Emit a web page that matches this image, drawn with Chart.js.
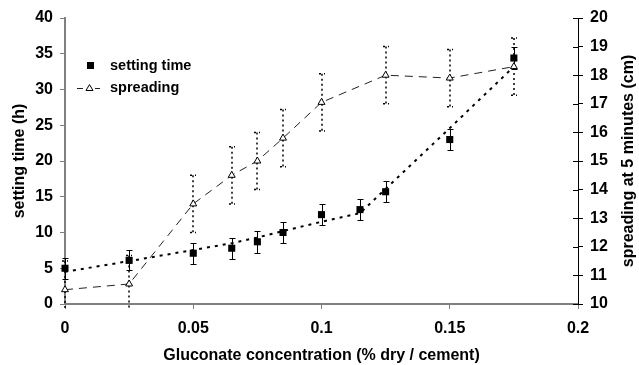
<!DOCTYPE html>
<html>
<head>
<meta charset="utf-8">
<script src="https://cdn.jsdelivr.net/npm/chart.js@4.4.1/dist/chart.umd.min.js"></script>
<style>
  html, body { margin: 0; padding: 0; background: #fff; }
  #wrap { width: 639px; height: 365px; }
</style>
</head>
<body>
<div id="wrap"><canvas id="chart" width="639" height="365"></canvas></div>
<script>
// values
const concentration = [0, 0.025, 0.05, 0.065, 0.075, 0.085, 0.1, 0.115, 0.125, 0.15, 0.175];
const settingTime   = [5.0, 6.1, 7.1, 7.8, 8.7, 10.0, 12.5, 13.2, 15.7, 23.0, 34.4];
const settingErr    = [1.5, 1.4, 1.5, 1.5, 1.5, 1.4, 1.5, 1.5, 1.45, 1.5, 1.5];
const settingTrend  = [4.5, 6.0, 7.55, 8.5, 9.3, 10.2, 11.5, 12.7, 16.1, 24.6, 33.2];

const spreadConc = [0, 0.025, 0.05, 0.065, 0.075, 0.085, 0.1, 0.125, 0.15, 0.175];
const spreading  = [10.5, 10.7, 13.5, 14.5, 15.0, 15.8, 17.05, 18.0, 17.9, 18.3];
const spreadErr  = [1, 1, 1, 1, 1, 1, 1, 1, 1, 1];

const xTicks = [0, 0.05, 0.1, 0.15, 0.2];
const xTickLabels = ['0', '0.05', '0.1', '0.15', '0.2'];
const yTicks = [0, 5, 10, 15, 20, 25, 30, 35, 40];
const y2Ticks = [10, 11, 12, 13, 14, 15, 16, 17, 18, 19, 20];

const FONT = '"Liberation Sans", Arial, sans-serif';
const pts = (xs, ys) => xs.map((x, i) => ({ x, y: ys[i] }));

const errorBars = {
  id: 'errorBars',
  beforeDatasetsDraw(chart) {
    const { ctx, chartArea: a, scales } = chart;
    const x = scales.x, y = scales.y, y2 = scales.y2;
    ctx.save();
    ctx.beginPath();
    ctx.rect(a.left - 10, a.top - 10, a.right - a.left + 20, a.bottom - a.top + 14);
    ctx.clip();

    // spreading: dotted bars
    ctx.strokeStyle = '#000';
    ctx.lineWidth = 1.5;
    ctx.setLineDash([2, 3]);
    spreadConc.forEach((c, i) => {
      const px = Math.round(x.getPixelForValue(c));
      const top = y2.getPixelForValue(spreading[i] + spreadErr[i]);
      const bot = y2.getPixelForValue(spreading[i] - spreadErr[i]);
      ctx.beginPath();
      ctx.moveTo(px, top); ctx.lineTo(px, bot);
      ctx.moveTo(px - 3, top); ctx.lineTo(px + 3, top);
      ctx.moveTo(px - 3, bot); ctx.lineTo(px + 3, bot);
      ctx.stroke();
    });

    // setting time: solid bars
    ctx.setLineDash([]);
    ctx.lineWidth = 1;
    concentration.forEach((c, i) => {
      const px = Math.round(x.getPixelForValue(c)) + 0.5;
      const top = Math.round(y.getPixelForValue(settingTime[i] + settingErr[i])) + 0.5;
      const bot = Math.round(y.getPixelForValue(settingTime[i] - settingErr[i])) + 0.5;
      ctx.beginPath();
      ctx.moveTo(px, top); ctx.lineTo(px, bot);
      ctx.moveTo(px - 3, top); ctx.lineTo(px + 3, top);
      ctx.moveTo(px - 3, bot); ctx.lineTo(px + 3, bot);
      ctx.stroke();
    });
    ctx.restore();
  }
};

const extras = {
  id: 'extras',
  afterDraw(chart) {
    const { ctx, chartArea: a, scales } = chart;
    ctx.save();
    // inner half of the right axis ticks
    ctx.strokeStyle = '#000';
    ctx.lineWidth = 1;
    y2Ticks.forEach(v => {
      const py = Math.round(scales.y2.getPixelForValue(v)) + 0.5;
      ctx.beginPath();
      ctx.moveTo(a.right - 5, py); ctx.lineTo(a.right, py);
      ctx.stroke();
    });

    // right axis title, reading bottom to top
    ctx.fillStyle = '#000';
    ctx.font = 'bold 16px ' + FONT;
    ctx.textAlign = 'center';
    ctx.textBaseline = 'middle';
    ctx.save();
    ctx.translate(629, (a.top + a.bottom) / 2);
    ctx.rotate(-Math.PI / 2);
    ctx.fillText('spreading at 5 minutes (cm)', 0, 0);
    ctx.restore();

    // legend
    ctx.fillStyle = '#000';
    ctx.fillRect(87, 62, 7, 7);
    ctx.lineWidth = 1;
    ctx.strokeStyle = '#222';
    ctx.beginPath();
    ctx.moveTo(77, 88.5); ctx.lineTo(83, 88.5);
    ctx.moveTo(95, 88.5); ctx.lineTo(100, 88.5);
    ctx.stroke();
    ctx.strokeStyle = '#000';
    ctx.fillStyle = '#fff';
    ctx.beginPath();
    ctx.moveTo(89.5, 84.5); ctx.lineTo(93, 90.5); ctx.lineTo(86, 90.5); ctx.closePath();
    ctx.fill(); ctx.stroke();

    ctx.fillStyle = '#000';
    ctx.font = 'bold 14.5px ' + FONT;
    ctx.textAlign = 'left';
    ctx.textBaseline = 'alphabetic';
    ctx.fillText('setting time', 110, 70);
    ctx.fillText('spreading', 110, 92);
    ctx.restore();
  }
};

new Chart(document.getElementById('chart'), {
  type: 'scatter',
  data: {
    datasets: [
      {
        label: 'setting time',
        data: pts(concentration, settingTime),
        yAxisID: 'y',
        pointStyle: 'rect',
        pointRadius: 5,
        backgroundColor: '#000',
        borderColor: '#000',
        borderWidth: 0,
        showLine: false,
        clip: false
      },
      {
        label: 'spreading',
        data: pts(spreadConc, spreading),
        yAxisID: 'y2',
        pointStyle: 'triangle',
        pointRadius: 4,
        pointBackgroundColor: '#fff',
        pointBorderColor: '#000',
        pointBorderWidth: 1,
        borderColor: '#222',
        borderWidth: 1,
        borderDash: [8, 6],
        showLine: true,
        tension: 0,
        clip: false
      },
      {
        label: 'setting trend',
        data: pts(concentration, settingTrend),
        yAxisID: 'y',
        pointRadius: 0,
        borderColor: '#000',
        borderWidth: 2,
        borderDash: [3, 5],
        showLine: true,
        tension: 0
      }
    ]
  },
  options: {
    responsive: false,
    animation: false,
    events: [],
    layout: { padding: { top: 18, left: 0, right: 0, bottom: 0 } },
    plugins: { legend: { display: false }, tooltip: { enabled: false } },
    scales: {
      x: {
        type: 'linear', min: 0, max: 0.2,
        afterBuildTicks: s => { s.ticks = xTicks.map(v => ({ value: v })); },
        afterFit: s => { s.height = 61; },
        ticks: {
          color: '#000', padding: 10, maxRotation: 0,
          font: { family: FONT, size: 16, weight: 'bold' },
          callback: (v, i) => xTickLabels[i]
        },
        grid: { drawOnChartArea: false, color: '#808080', tickLength: 5, lineWidth: 1 },
        border: { color: '#808080', width: 2 },
        title: {
          display: true, text: 'Gluconate concentration (% dry / cement)', color: '#000',
          font: { family: FONT, size: 16, weight: 'bold' }, padding: { top: 0, bottom: 0 }
        }
      },
      y: {
        type: 'linear', position: 'left', min: 0, max: 40,
        afterBuildTicks: s => { s.ticks = yTicks.map(v => ({ value: v })); },
        afterFit: s => { s.width = 65; },
        ticks: { color: '#000', padding: 7, font: { family: FONT, size: 16, weight: 'bold' } },
        grid: { drawOnChartArea: false, color: '#808080', tickLength: 5, lineWidth: 1 },
        border: { color: '#808080', width: 2 },
        title: {
          display: true, text: 'setting time (h)', color: '#000',
          font: { family: FONT, size: 16, weight: 'bold' }, padding: { top: 10, bottom: 0 }
        }
      },
      y2: {
        type: 'linear', position: 'right', min: 10, max: 20,
        afterBuildTicks: s => { s.ticks = y2Ticks.map(v => ({ value: v })); },
        afterFit: s => { s.width = 61; },
        ticks: { color: '#000', padding: 7, font: { family: FONT, size: 16, weight: 'bold' } },
        grid: { drawOnChartArea: false, color: '#000', tickLength: 5, lineWidth: 1 },
        border: { color: '#000', width: 1 }
      }
    }
  },
  plugins: [errorBars, extras]
});
</script>
</body>
</html>
